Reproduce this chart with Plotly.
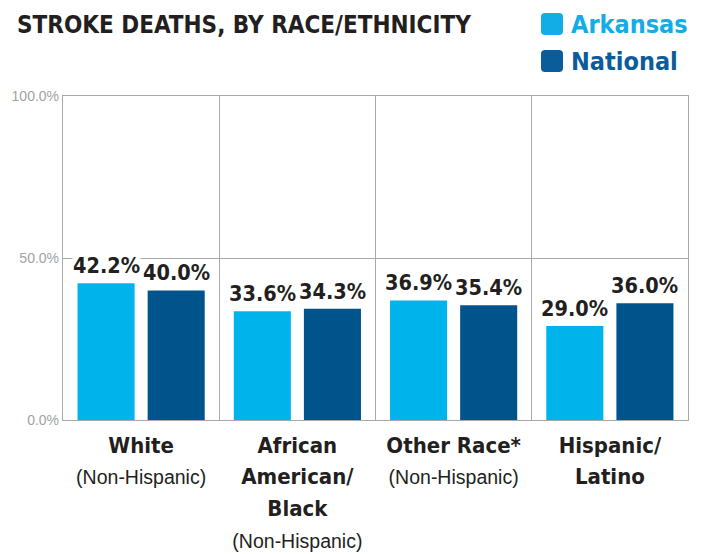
import plotly.graph_objects as go

# ---- data ----
categories = ["White", "African American/Black", "Other Race*", "Hispanic/Latino"]
main_labels = [["White"], ["African", "American/", "Black"], ["Other Race*"], ["Hispanic/", "Latino"]]
sub_labels = ["(Non-Hispanic)", "(Non-Hispanic)", "(Non-Hispanic)", ""]
arkansas = [42.2, 33.6, 36.9, 29.0]
national = [40.0, 34.3, 35.4, 36.0]
series_names = ["Arkansas", "National"]
y_tick_vals = [0, 50, 100]
y_tick_text = ["0.0%", "50.0%", "100.0%"]
title_text = "STROKE DEATHS, BY RACE/ETHNICITY"

# ---- style ----
C_ARK = "#00B3EB"
C_NAT = "#00548C"
C_ARK_LEG = "#12ADE6"
C_NAT_LEG = "#0B5C9B"
C_TEXT = "#231F20"
C_GRID = "#A7A9AC"
NARROW = "DejaVu Sans Condensed, Roboto"

# page body has an 8px margin; work in viewport pixels
OFF = 8
VW, VH = 702, 554
W, H = VW - OFF, VH - OFF
L, R, T, B = 63, 688, 96, 420   # plot area in viewport pixels


def px_x(px):
    return (px - L) / (R - L)


def px_y(py):
    return (B - py) / (B - T)


tick_text = []
for mains, sub in zip(main_labels, sub_labels):
    parts = ["<span style='font-size:22px;font-weight:bold'>%s</span>" % m for m in mains]
    if sub:
        parts.append("<span style='font-family:Liberation Sans;font-size:19.5px;font-weight:normal'>%s</span>" % sub)
    tick_text.append("<br>".join(parts))

fig = go.Figure()
fig.add_trace(go.Bar(x=categories, y=arkansas, name=series_names[0], marker_color=C_ARK,
                     marker_line_width=0, showlegend=False))
fig.add_trace(go.Bar(x=categories, y=national, name=series_names[1], marker_color=C_NAT,
                     marker_line_width=0, showlegend=False))

# value labels
for vals, shift in ((arkansas, -35), (national, 35)):
    for c, v in zip(categories, vals):
        fig.add_annotation(x=c, y=v, xref="x", yref="y", text="<b>%.1f%%</b>" % v,
                           showarrow=False, xshift=shift, yanchor="bottom", yshift=4,
                           font=dict(family=NARROW, size=21.5, color=C_TEXT),
                           bgcolor="white", borderpad=0)

# legend (text + rounded squares)
for name, col, cy in ((series_names[0], C_ARK_LEG, 25), (series_names[1], C_NAT_LEG, 62)):
    fig.add_annotation(x=px_x(569), y=px_y(cy), xref="paper", yref="paper", text="<b>%s</b>" % name,
                       showarrow=False, xanchor="left", yanchor="middle",
                       font=dict(family=NARROW, size=25, color=col))
    fig.add_shape(type="path", xref="paper", yref="paper", xsizemode="pixel", ysizemode="pixel",
                  xanchor=px_x(552), yanchor=px_y(cy - 1),
                  path="M-11,-7 Q-11,-11 -7,-11 L7,-11 Q11,-11 11,-7 L11,7 Q11,11 7,11 L-7,11 Q-11,11 -11,7 Z",
                  fillcolor=col, line_width=0)

fig.update_layout(
    width=W, height=H,
    margin=dict(l=L - OFF, r=VW - R, t=T - OFF, b=VH - B, pad=0),
    paper_bgcolor="white", plot_bgcolor="white",
    barmode="group", bargap=0.1026, bargroupgap=0.186,
    title=dict(text="<b>%s</b>" % title_text, x=(17 - OFF) / W, xanchor="left", xref="container",
               y=1 - (25 - OFF) / H, yanchor="middle", yref="container",
               font=dict(family=NARROW, size=24, color=C_TEXT)),
    xaxis=dict(type="category", tickmode="array", tickvals=categories, ticktext=tick_text,
               tickson="boundaries", showgrid=True, gridcolor=C_GRID, gridwidth=1.3,
               showline=True, mirror=True, linecolor=C_GRID, linewidth=1.3, automargin=False,
               tickangle=0, ticks="", ticklabelstandoff=2,
               tickfont=dict(family=NARROW, size=24.5, color=C_TEXT)),
    yaxis=dict(range=[0, 100], tickmode="array", tickvals=y_tick_vals, ticktext=y_tick_text,
               showgrid=True, gridcolor=C_GRID, gridwidth=1.3, zeroline=False, automargin=False,
               showline=True, mirror=True, linecolor=C_GRID, linewidth=1.3,
               ticks="", tickfont=dict(family="Liberation Sans", size=14, color="#A0A2A5")),
)

fig.write_html("out.html")
